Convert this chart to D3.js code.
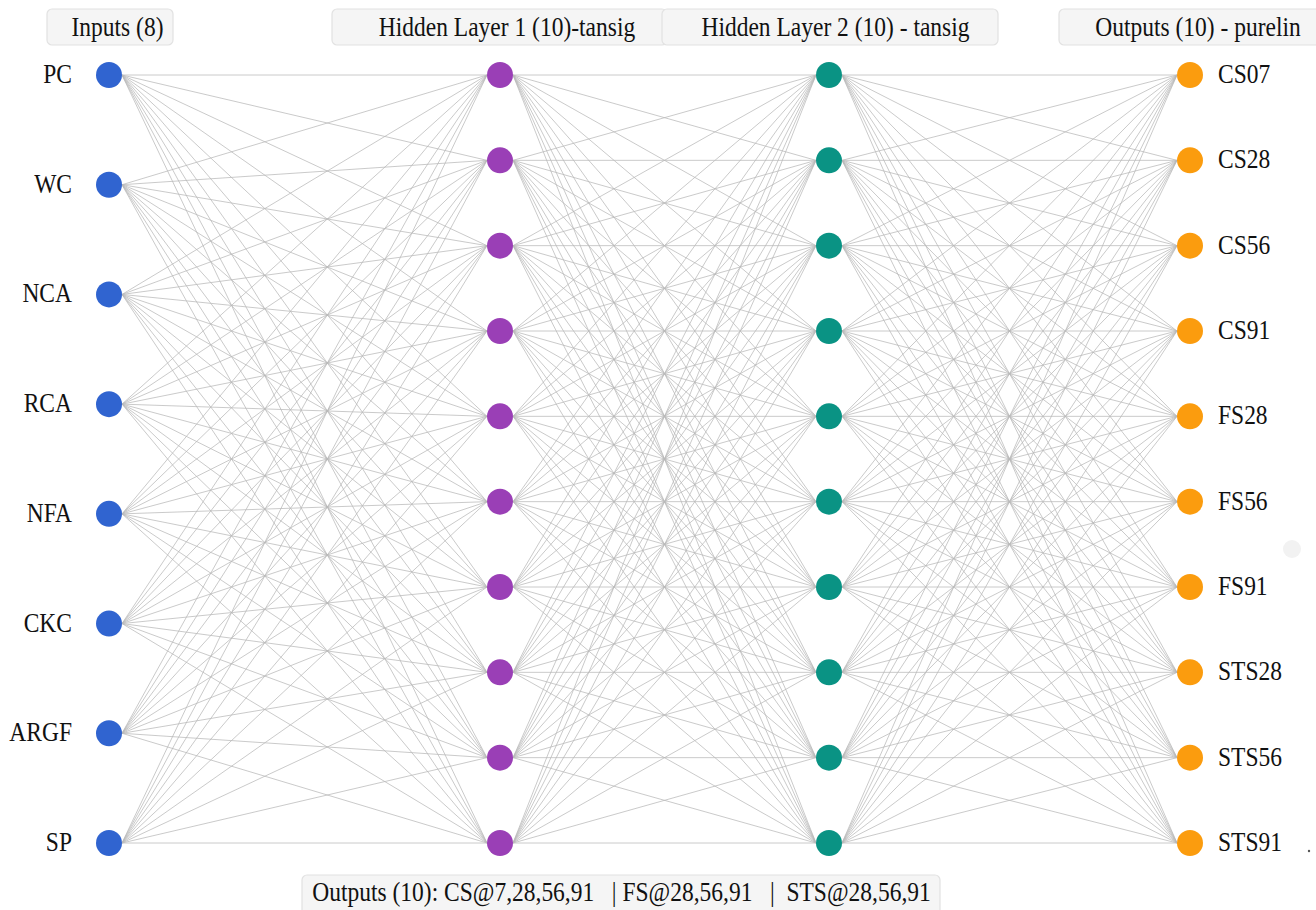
<!DOCTYPE html>
<html><head><meta charset="utf-8">
<script src="https://cdn.jsdelivr.net/npm/d3@7"></script>
<style>body{margin:0;background:#fff}svg{display:block}</style>
</head><body>
<script>
// ---- data ----
const inputLabels = ["PC","WC","NCA","RCA","NFA","CKC","ARGF","SP"];
const hidden1Size = 10;
const hidden2Size = 10;
const outputLabels = ["CS07","CS28","CS56","CS91","FS28","FS56","FS91","STS28","STS56","STS91"];
const layerNames = ["input","hidden1","hidden2","output"];
const layerTitles = ["Inputs (8)","Hidden Layer 1 (10)-tansig","Hidden Layer 2 (10) - tansig","Outputs (10) - purelin"];
const layerColors = ["#3064d0","#9a3fb6","#0a9384","#fb9c0e"];
const footerText = "Outputs (10): CS@7,28,56,91   | FS@28,56,91   |  STS@28,56,91";

// ---- layout ----
const W = 1316, H = 910, R = 13;
const FS = 23.5, SY = 1.12;
const svg = d3.select("body").append("svg").attr("width", W).attr("height", H);
const x = d3.scaleOrdinal().domain(layerNames).range([109, 500, 829, 1190]);
const sizes = [inputLabels.length, hidden1Size, hidden2Size, outputLabels.length];
const yScales = sizes.map(n => d3.scaleLinear().domain([0, n - 1]).range([75, 843]));

const layers = layerNames.map((name, li) => d3.range(sizes[li]).map(i => ({layer: li, i, x: x(name), y: yScales[li](i)})));

// edges
const edges = [];
for (let l = 0; l < layers.length - 1; l++) {
  layers[l].forEach(a => layers[l + 1].forEach(b => edges.push({a, b})));
}
svg.append("g").selectAll("line").data(edges).join("line")
  .attr("x1", d => d.a.x + R).attr("y1", d => d.a.y)
  .attr("x2", d => d.b.x - R).attr("y2", d => d.b.y)
  .attr("stroke", "#b8b8b8").attr("stroke-opacity", 0.75).attr("stroke-width", 1);

// nodes
svg.append("g").selectAll("circle").data(layers.flat()).join("circle")
  .attr("cx", d => d.x).attr("cy", d => d.y).attr("r", R)
  .attr("fill", d => layerColors[d.layer]);

const font = "'Liberation Serif', 'Times New Roman', serif";
function txt(g, tx, ty, anchor, s, sy) {
  return g.append("text").attr("transform", `translate(${tx},${ty}) scale(1,${sy || SY})`)
    .attr("text-anchor", anchor).attr("font-family", font).attr("font-size", FS)
    .attr("fill", "#111").attr("xml:space", "preserve").style("white-space", "pre").text(s);
}
const lg = svg.append("g");
layers[0].forEach(d => txt(lg, 72, d.y + 8, "end", inputLabels[d.i]));
layers[3].forEach(d => txt(lg, 1218, d.y + 8, "start", outputLabels[d.i]));

// headers
const headerBoxes = [[47, 126, 117.5], [332, 335, 507], [662, 336, 835.5], [1059, 270, 1198]];
const hg = svg.append("g");
headerBoxes.forEach((b, i) => {
  hg.append("rect").attr("x", b[0]).attr("y", 9).attr("width", b[1]).attr("height", 36).attr("rx", 5)
    .attr("fill", "#f5f5f5").attr("stroke", "#e2e2e2").attr("stroke-width", 1.2);
  txt(hg, b[2], 36, "middle", layerTitles[i], 1.18);
});

// footer
svg.append("rect").attr("x", 302).attr("y", 875).attr("width", 638).attr("height", 40).attr("rx", 5)
  .attr("fill", "#f5f5f5").attr("stroke", "#e2e2e2").attr("stroke-width", 1.2);
txt(svg, 621.5, 901, "middle", footerText);

// small artifacts
svg.append("circle").attr("cx", 1292).attr("cy", 549).attr("r", 9).attr("fill", "#f2f2f2");
svg.append("circle").attr("cx", 1309).attr("cy", 851).attr("r", 1.2).attr("fill", "#555");
</script>
</body></html>
